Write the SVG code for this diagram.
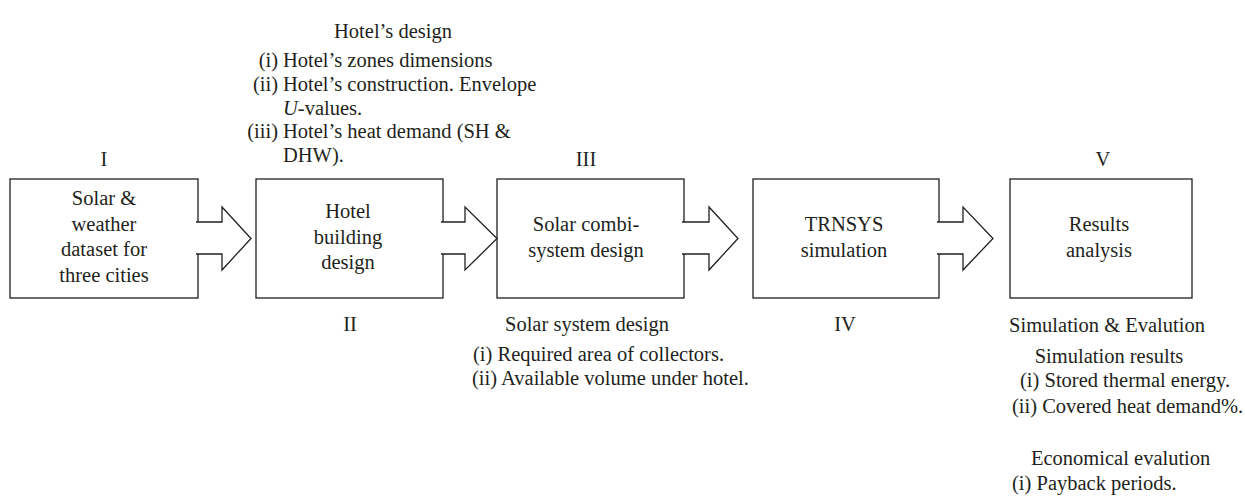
<svg xmlns="http://www.w3.org/2000/svg" width="1245" height="502" viewBox="0 0 1245 502">
<style>
  .box{fill:#fff;stroke:#231f20;stroke-width:1.3}
  .arr{fill:#fff;stroke:#231f20;stroke-width:1.3;stroke-linejoin:miter}
  text{font-family:"Liberation Serif","Times New Roman",serif;font-size:20.5px;fill:#231f20}
  .c{text-anchor:middle}
  .e{text-anchor:end}
</style>
<rect width="1245" height="502" fill="#fff"/>

<g id="hotel-design-notes">
  <text class="c" x="393" y="38">Hotel’s design</text>
  <text class="e" x="278" y="67">(i)</text><text x="283" y="67">Hotel’s zones dimensions</text>
  <text class="e" x="278" y="91">(ii)</text><text x="283" y="91">Hotel’s construction. Envelope</text>
  <text x="283" y="114.5"><tspan font-style="italic">U</tspan>-values.</text>
  <text class="e" x="278" y="138">(iii)</text><text x="283" y="138">Hotel’s heat demand (SH &amp;</text>
  <text x="283" y="161.5">DHW).</text>
</g>

<g id="node1">
  <rect class="box" x="10" y="179" width="188" height="119"/>
  <text class="c" x="104" y="205">Solar &amp;</text>
  <text class="c" x="104" y="231">weather</text>
  <text class="c" x="104" y="256">dataset for</text>
  <text class="c" x="104" y="282">three cities</text>
  <text class="c" x="104" y="166">I</text>
</g>
<g id="node2">
  <rect class="box" x="256" y="179" width="187" height="119"/>
  <text class="c" x="348" y="218">Hotel</text>
  <text class="c" x="348" y="244">building</text>
  <text class="c" x="348" y="269">design</text>
  <text class="c" x="350" y="331">II</text>
</g>
<g id="node3">
  <rect class="box" x="497" y="179" width="187" height="119"/>
  <text class="c" x="586" y="231">Solar combi-</text>
  <text class="c" x="586" y="257">system design</text>
  <text class="c" x="586" y="166">III</text>
</g>
<g id="node4">
  <rect class="box" x="753" y="179" width="186" height="119"/>
  <text class="c" x="844" y="231">TRNSYS</text>
  <text class="c" x="844" y="257">simulation</text>
  <text class="c" x="845" y="331">IV</text>
</g>
<g id="node5">
  <rect class="box" x="1010" y="179" width="182" height="119"/>
  <text class="c" x="1099" y="231">Results</text>
  <text class="c" x="1099" y="257">analysis</text>
  <text class="c" x="1103" y="166">V</text>
</g>

<g id="solar-system-notes">
  <text class="c" x="587" y="331">Solar system design</text>
  <text x="473" y="361">(i) Required area of collectors.</text>
  <text x="472" y="385">(ii) Available volume under hotel.</text>
</g>

<g id="simulation-notes">
  <text class="c" x="1107" y="332">Simulation &amp; Evalution</text>
  <text class="c" x="1109" y="363">Simulation results</text>
  <text x="1020" y="387">(i) Stored thermal energy.</text>
  <text x="1012" y="413">(ii) Covered heat demand%.</text>
  <text x="1031" y="465">Economical evalution</text>
  <text x="1012" y="490">(i) Payback periods.</text>
</g>

<g id="connectors">
  <path class="arr" d="M196,222 H222 V207 L251,238.5 L222,270 V254 H196"/>
  <path class="arr" d="M441,222 H465 V207 L497,238.5 L465,270 V254 H441"/>
  <path class="arr" d="M682,222 H709 V207 L738,238.5 L709,270 V254 H682"/>
  <path class="arr" d="M937,222 H963 V207 L993,238.5 L963,270 V254 H937"/>
</g>
</svg>
